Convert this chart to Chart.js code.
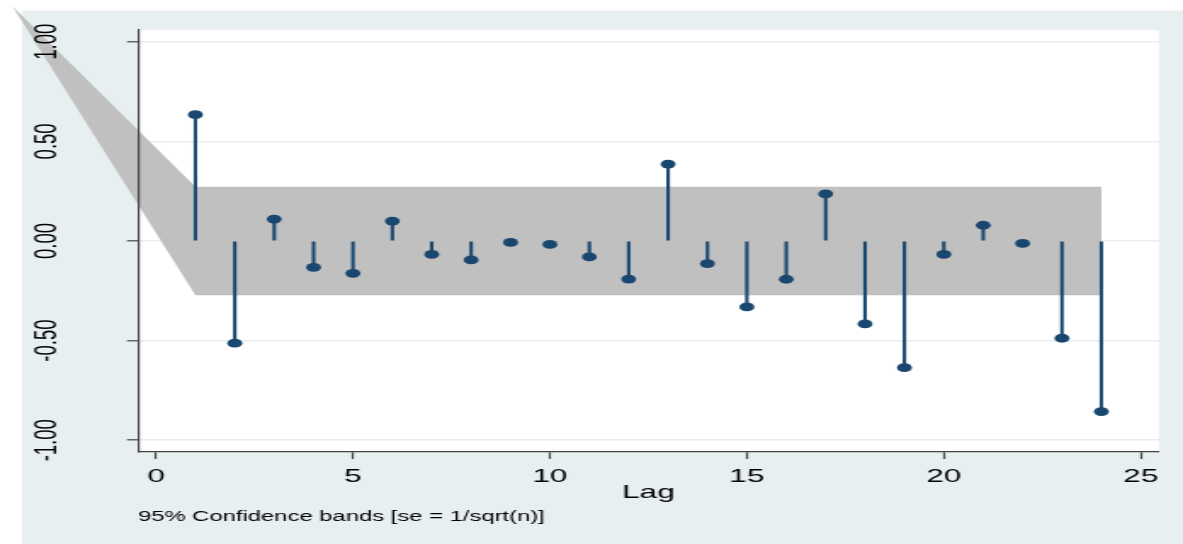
<!DOCTYPE html>
<html>
<head>
<meta charset="utf-8">
<script src="https://cdn.jsdelivr.net/npm/chart.js@4/dist/chart.umd.min.js"></script>
<style>
  html, body { margin: 0; padding: 0; background: #ffffff; overflow: hidden; }
  #c { display: block; width: 1183px; height: 544px; }
</style>
</head>
<body>
<canvas id="c" width="696" height="544" style="width:1183px;height:544px;"></canvas>
<script>
// ---- data ----
const lags = [1, 2, 3, 4, 5, 6, 7, 8, 9, 10, 11, 12, 13, 14, 15, 16, 17, 18, 19, 20, 21, 22, 23, 24];
const acf = [0.634, -0.513, 0.110, -0.132, -0.162, 0.100, -0.067, -0.095, -0.007, -0.017, -0.080, -0.191,
             0.386, -0.114, -0.331, -0.192, 0.236, -0.416, -0.636, -0.067, 0.079, -0.012, -0.488, -0.856];
const bandLags = [-3.65, 1, 24];
const bandUpper = [1.18, 0.272, 0.272];
const bandLower = [1.18, -0.272, -0.272];
const xTicks = [0, 5, 10, 15, 20, 25];
const xTickLabels = ['0', '5', '10', '15', '20', '25'];
const yTicks = [-1, -0.5, 0, 0.5, 1];
const yTickLabels = ['-1.00', '-0.50', '0.00', '0.50', '1.00'];
const xTitle = 'Lag';
const footnote = '95% Confidence bands [se = 1/sqrt(n)]';

const NAVY = '#1a476f';
const BAND = '#c0c0c0';
const OUTER = '#e8eff1';
const GRID = '#e6eef1';
const FONT = 'Liberation Sans, Arial, Helvetica, sans-serif';

const backgroundPlugin = {
  id: 'stataBackground',
  beforeDraw(chart) {
    const ctx = chart.ctx;
    const a = chart.chartArea;
    ctx.save();
    ctx.fillStyle = '#ffffff';
    ctx.fillRect(0, 0, chart.width, chart.height);
    ctx.fillStyle = OUTER;
    ctx.fillRect(12.9, 10.5, chart.width - 12.9, chart.height - 10.5);
    ctx.fillStyle = '#ffffff';
    ctx.fillRect(a.left, a.top, a.right - a.left, a.bottom - a.top);
    ctx.restore();
  }
};

const bandPlugin = {
  id: 'confBand',
  beforeDatasetsDraw(chart) {
    const ctx = chart.ctx;
    const xs = chart.scales.x, ys = chart.scales.y;
    ctx.save();
    ctx.beginPath();
    for (let i = 0; i < bandLags.length; i++) {
      const px = xs.getPixelForValue(bandLags[i]);
      const py = ys.getPixelForValue(bandUpper[i]);
      if (i === 0) ctx.moveTo(px, py); else ctx.lineTo(px, py);
    }
    for (let i = bandLags.length - 1; i >= 0; i--) {
      ctx.lineTo(xs.getPixelForValue(bandLags[i]), ys.getPixelForValue(bandLower[i]));
    }
    ctx.closePath();
    ctx.fillStyle = BAND;
    ctx.fill();
    ctx.restore();
  }
};

new Chart(document.getElementById('c'), {
  type: 'bar',
  data: {
    datasets: [
      {
        type: 'scatter',
        data: lags.map((l, i) => ({ x: l, y: acf[i] })),
        pointRadius: 4.4,
        pointHoverRadius: 4.4,
        backgroundColor: NAVY,
        borderColor: NAVY,
        borderWidth: 0,
        showLine: false,
        order: 0
      },
      {
        type: 'bar',
        data: lags.map((l, i) => ({ x: l, y: acf[i] })),
        backgroundColor: NAVY,
        borderWidth: 0,
        barThickness: 1.4,
        grouped: false,
        order: 1
      }
    ]
  },
  options: {
    responsive: false,
    animation: false,
    devicePixelRatio: 1,
    layout: { padding: { top: 30, right: 14.2, bottom: 0, left: 0 } },
    plugins: {
      legend: { display: false },
      tooltip: { enabled: false },
      title: {
        display: true,
        position: 'bottom',
        align: 'start',
        fullSize: false,
        text: footnote,
        color: '#000000',
        font: { family: FONT, size: 14, weight: 'normal' },
        padding: { top: 5, bottom: 18.2 }
      }
    },
    scales: {
      x: {
        type: 'linear',
        offset: false,
        min: -0.457,
        max: 25.46,
        afterBuildTicks(scale) { scale.ticks = xTicks.map(v => ({ value: v })); },
        afterFit(scale) { scale.height = 52; scale.paddingLeft = 0; scale.paddingRight = 0; },
        ticks: {
          autoSkip: false,
          maxRotation: 0,
          minRotation: 0,
          padding: 6.6,
          color: '#000000',
          font: { family: FONT, size: 18.5 },
          callback: (v, i) => xTickLabels[i]
        },
        grid: {
          display: true,
          offset: false,
          drawOnChartArea: false,
          drawTicks: true,
          tickLength: 7,
          tickColor: '#444444',
          tickWidth: 1.2
        },
        border: { display: true, color: '#444444', width: 1.3, z: 1 },
        title: {
          display: true,
          text: xTitle,
          color: '#000000',
          font: { family: FONT, size: 18.5 },
          padding: { top: 0, bottom: 0 }
        }
      },
      y: {
        type: 'linear',
        min: -1.059,
        max: 1.059,
        afterBuildTicks(scale) { scale.ticks = yTicks.map(v => ({ value: v })); },
        afterFit(scale) { scale.width = 81.2; scale.paddingTop = 0; scale.paddingBottom = 0; },
        ticks: {
          autoSkip: false,
          minRotation: 90,
          maxRotation: 90,
          crossAlign: 'center',
          padding: 26.2,
          z: 1,
          color: '#000000',
          font: { family: FONT, size: 18.5 },
          callback: (v, i) => yTickLabels[i]
        },
        grid: {
          display: true,
          drawOnChartArea: true,
          drawTicks: true,
          color: GRID,
          lineWidth: 1.6,
          tickLength: 6.5,
          tickColor: '#444444',
          tickWidth: 1.2
        },
        border: { display: true, color: '#444444', width: 1.2, z: 1 }
      }
    }
  },
  plugins: [backgroundPlugin, bandPlugin]
});
</script>
</body>
</html>
